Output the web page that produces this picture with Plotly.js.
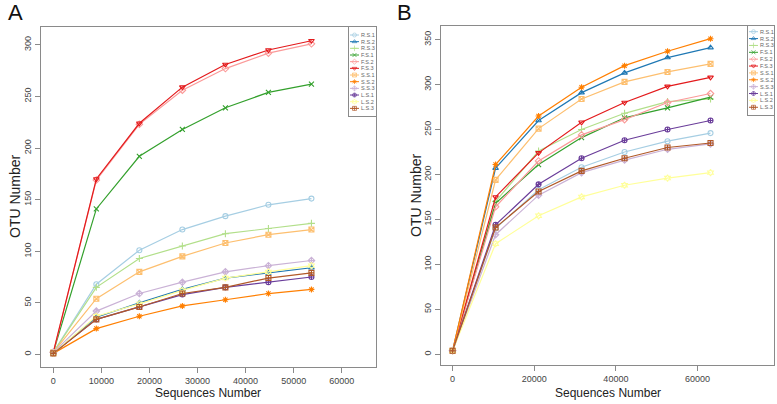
<!DOCTYPE html>
<html>
<head>
<meta charset="utf-8">
<script src="https://cdn.plot.ly/plotly-3.0.1.min.js"></script>
<style>
  html, body { margin: 0; padding: 0; background: #fff; }
  #myDiv { width: 777px; height: 404px; }
</style>
</head>
<body>
<div id="myDiv"></div>
<script>
// sample names, colours (R "Paired") and pch-like symbols
const names = ['R.S.1', 'R.S.2', 'R.S.3', 'F.S.1', 'F.S.2', 'F.S.3',
               'S.S.1', 'S.S.2', 'S.S.3', 'L.S.1', 'L.S.2', 'L.S.3'];
const colors = ['#A6CEE3', '#1F78B4', '#B2DF8A', '#33A02C', '#FB9A99', '#E31A1C',
                '#FDBF6F', '#FF7F00', '#CAB2D6', '#6A3D9A', '#FFFF99', '#B15928'];
const symbols = ['circle-open', 'triangle-up-open', 'cross-thin-open', 'x-thin-open',
                 'diamond-open', 'triangle-down-open', 'square-x-open', 'asterisk-open',
                 'diamond-cross-open', 'circle-cross-open', 'hexagram-open', 'square-cross-open'];

// panel A
const seqA = [0, 8950, 17900, 26850, 35800, 44750, 53700];
const otuA = [
    [2, 68, 101, 121, 134, 145, 151],
    [1, 36, 50, 63, 74, 79, 84],
    [2, 65, 93, 105, 117, 122, 127],
    [2, 141, 192, 218, 239, 254, 262],
    [2, 169, 223, 256, 277, 292, 301],
    [2, 170, 224, 259, 281, 295, 304],
    [2, 54, 80, 95, 108, 116, 121],
    [1, 25, 37, 47, 53, 59, 63],
    [2, 42, 59, 70, 80, 86, 91],
    [1, 34, 46, 58, 65, 70, 75],
    [1, 37, 49, 62, 74, 80, 86],
    [1, 34, 46, 59, 65, 74, 79]
];

// panel B
const seqB = [0, 10530, 21060, 31590, 42120, 52650, 63180];
const otuB = [
    [4, 140, 183, 208, 225, 237, 246],
    [4, 207, 260, 291, 313, 330, 341],
    [4, 170, 226, 250, 268, 281, 284],
    [4, 168, 211, 241, 263, 274, 286],
    [4, 164, 215, 244, 261, 280, 290],
    [4, 175, 224, 258, 280, 298, 308],
    [4, 194, 251, 284, 303, 314, 323],
    [4, 211, 265, 297, 321, 337, 351],
    [4, 133, 177, 202, 216, 228, 234],
    [4, 144, 189, 218, 238, 250, 260],
    [4, 123, 154, 175, 188, 196, 202],
    [4, 141, 181, 204, 218, 230, 235]
];

const W = 777, H = 404;
function px(x) { return x / W; }
function py(y) { return 1 - y / H; }

const font = 'Liberation Sans, Arial, sans-serif';
const boxCol = '#8a8a8a';

var data = [];
function addPanel(seq, otu, xa, ya, lxa, lya, ly0, ldy) {
    for (let i = 0; i < names.length; i++) {
        data.push({
            x: seq, y: otu[i], name: names[i],
            xaxis: xa, yaxis: ya,
            mode: 'lines+markers', type: 'scatter', showlegend: false,
            line: {color: colors[i], width: 1.2},
            marker: {symbol: symbols[i], size: 5, color: colors[i],
                     line: {color: colors[i], width: 1.1}}
        });
        // legend key (legend-local pixel axis)
        let yy = ly0 + i * ldy;
        data.push({
            x: [0, 4.5, 9], y: [yy, yy, yy],
            xaxis: lxa, yaxis: lya,
            mode: 'lines+markers', type: 'scatter', showlegend: false, hoverinfo: 'skip',
            line: {color: colors[i], width: 1},
            marker: {symbol: symbols[i], size: [0, 4, 0], color: colors[i],
                     line: {color: colors[i], width: 1}}
        });
    }
}
addPanel(seqA, otuA, 'x', 'y', 'x3', 'y3', 8, 6.67);
addPanel(seqB, otuB, 'x2', 'y2', 'x4', 'y4', 5.7, 6.87);

function mainAxis(dom, range, dtick, anchor, isY) {
    return {
        domain: dom, range: range, dtick: dtick, tick0: 0, anchor: anchor,
        showline: true, mirror: true, linecolor: boxCol, linewidth: 1,
        ticks: 'outside', ticklen: 5, tickcolor: boxCol,
        showgrid: false, zeroline: false,
        tickangle: isY ? -90 : 0, tickformat: 'd',
        tickfont: {family: font, size: 9, color: '#444'}
    };
}
function legAxis(dom, range, anchor) {
    return {
        domain: dom, range: range, anchor: anchor,
        showline: true, mirror: true, linecolor: boxCol, linewidth: 1,
        ticks: '', showticklabels: false, showgrid: false, zeroline: false
    };
}

var annotations = [];
function legendText(xr, yr, ly0, ldy) {
    for (let i = 0; i < names.length; i++) {
        annotations.push({
            xref: xr, yref: yr, x: 10, y: ly0 + i * ldy,
            xanchor: 'left', yanchor: 'middle', showarrow: false,
            borderpad: 0, text: names[i], font: {family: font, size: 5.5, color: '#666'}
        });
    }
}
legendText('x3', 'y3', 8, 6.67);
legendText('x4', 'y4', 5.7, 6.87);

function txt(x, y, s, size, angle, col) {
    annotations.push({
        xref: 'paper', yref: 'paper', x: px(x), y: py(y),
        xanchor: 'center', yanchor: 'middle', showarrow: false,
        text: s, textangle: angle || 0,
        font: {family: font, size: size, color: col || '#222'}
    });
}
txt(15, 12, 'A', 22, 0, '#111');
txt(405, 12, 'B', 22, 0, '#111');
txt(15, 196, 'OTU Number', 14, -90);
txt(416, 195, 'OTU Number', 14, -90);
txt(208, 393, 'Sequences Number', 12);
txt(608, 393, 'Sequences Number', 12);

var layout = {
    width: W, height: H,
    margin: {l: 0, r: 0, t: 0, b: 0},
    paper_bgcolor: '#fff', plot_bgcolor: '#fff',
    showlegend: false,
    xaxis: mainAxis([px(41), px(376)], [-2560, 67130], 10000, 'y', false),
    yaxis: mainAxis([py(367), py(27)], [-12.2, 317.3], 50, 'x', true),
    xaxis2: mainAxis([px(441), px(774)], [-2840, 78730], 20000, 'y2', false),
    yaxis2: mainAxis([py(365), py(26)], [-11.9, 365.1], 50, 'x2', true),
    xaxis3: legAxis([px(349), px(376)], [-1, 26], 'y3'),
    yaxis3: legAxis([py(116), py(27)], [89, 0], 'x3'),
    xaxis4: legAxis([px(748), px(774)], [-1, 25], 'y4'),
    yaxis4: legAxis([py(115), py(26)], [89, 0], 'x4'),
    annotations: annotations
};

Plotly.newPlot('myDiv', data, layout, {staticPlot: true});
</script>
</body>
</html>
